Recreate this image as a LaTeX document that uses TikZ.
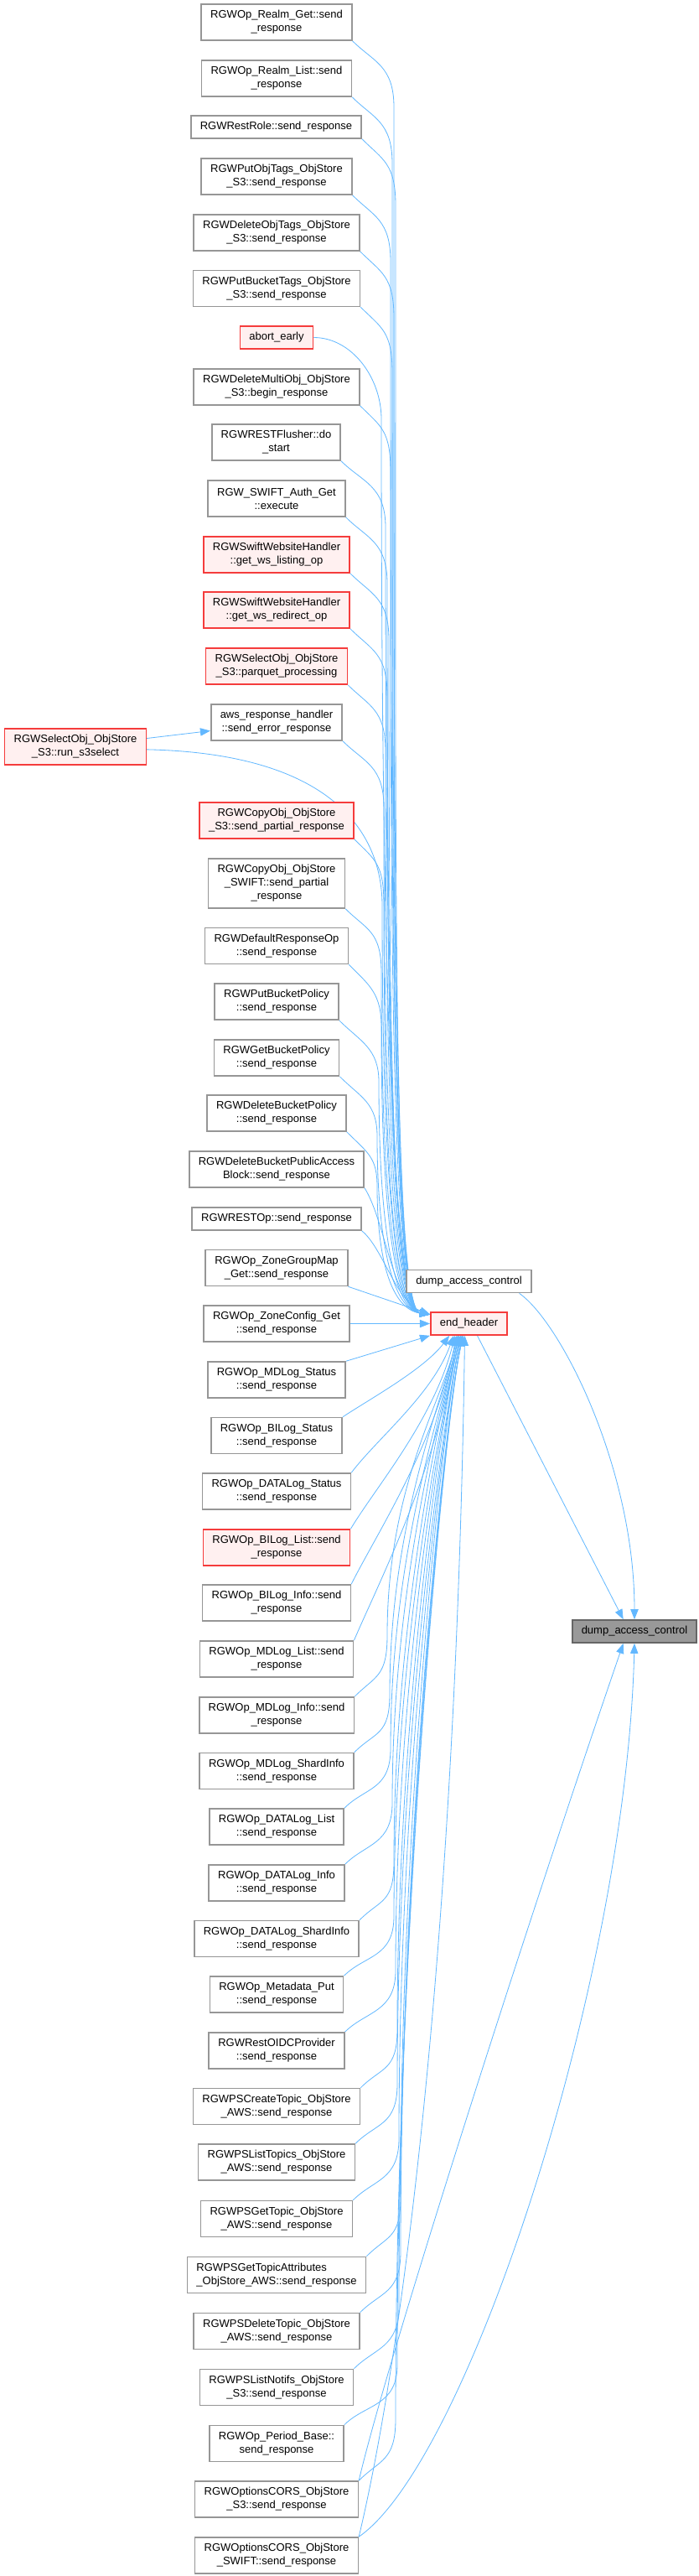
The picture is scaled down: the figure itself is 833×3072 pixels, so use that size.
\documentclass[tikz,border=0pt]{standalone}
\usepackage{fontspec}
\setmainfont{Liberation Sans}
\usepackage{tikz}
\usetikzlibrary{arrows.meta, backgrounds}
\definecolor{edgeblue}{RGB}{99,184,255}
\definecolor{boxgray}{RGB}{150,150,150}
\definecolor{hotred}{RGB}{245,60,60}
\definecolor{hotfill}{RGB}{255,240,240}
\definecolor{curfill}{RGB}{153,153,153}
\definecolor{curdraw}{RGB}{102,102,102}

\begin{document}
\begin{tikzpicture}[x=0.03cm, y=-0.03cm,
  fn/.style={rectangle, draw=boxgray, fill=white, line width=1.4pt,
             font=\fontsize{11.1}{13.7}\selectfont, align=center,
             inner xsep=0.33cm, inner ysep=0pt, minimum height=0.81cm},
  hot/.style={fn, draw=hotred, fill=hotfill},
  cur/.style={fn, draw=curdraw, fill=curfill},
  l2/.style={minimum height=1.29cm},
  l3/.style={minimum height=1.77cm},
  calls/.style={draw=edgeblue, line width=0.7pt, -{Triangle[length=0.36cm, width=0.28cm]}},
]
  \useasboundingbox (0,0) rectangle (833,3072);

  % callers of end_header, above it
  \node[fn, l2]  (rlmget)     at (330,26.5)   {RGWOp\_Realm\_Get::send\\\_response};
  \node[fn, l2]  (rlmlist)    at (330,93.5)   {RGWOp\_Realm\_List::send\\\_response};
  \node[fn]      (restrole)   at (329.5,151.5){RGWRestRole::send\_response};
  \node[fn, l2]  (putobjtags) at (330,210.5)  {RGWPutObjTags\_ObjStore\\\_S3::send\_response};
  \node[fn, l2]  (delobjtags) at (330,277.5)  {RGWDeleteObjTags\_ObjStore\\\_S3::send\_response};
  \node[fn, l2]  (putbkttags) at (330,344)    {RGWPutBucketTags\_ObjStore\\\_S3::send\_response};
  \node[hot]     (abortearly) at (330,402.5)  {abort\_early};
  \node[fn, l2]  (delmulti)   at (330,461.5)  {RGWDeleteMultiObj\_ObjStore\\\_S3::begin\_response};
  \node[fn, l2]  (flusher)    at (329.5,527.5){RGWRESTFlusher::do\\\_start};
  \node[fn, l2]  (swauth)     at (330,594.5)  {RGW\_SWIFT\_Auth\_Get\\::execute};
  \node[hot, l2] (wslist)     at (330,661.5)  {RGWSwiftWebsiteHandler\\::get\_ws\_listing\_op};
  \node[hot, l2] (wsredir)    at (330,727.5)  {RGWSwiftWebsiteHandler\\::get\_ws\_redirect\_op};
  \node[hot, l2] (parquet)    at (330,794.5)  {RGWSelectObj\_ObjStore\\\_S3::parquet\_processing};
  \node[fn, l2]  (awsresp)    at (330,861.5)  {aws\_response\_handler\\::send\_error\_response};
  \node[hot, l2] (runsel)     at (90,890.5)   {RGWSelectObj\_ObjStore\\\_S3::run\_s3select};
  \node[hot, l2] (copys3)     at (330,978.5)  {RGWCopyObj\_ObjStore\\\_S3::send\_partial\_response};
  \node[fn, l3]  (copyswift)  at (330,1053.5) {RGWCopyObj\_ObjStore\\\_SWIFT::send\_partial\\\_response};
  \node[fn, l2]  (defresp)    at (330,1128)   {RGWDefaultResponseOp\\::send\_response};
  \node[fn, l2]  (putpol)     at (330,1194.5) {RGWPutBucketPolicy\\::send\_response};
  \node[fn, l2]  (getpol)     at (330,1261.5) {RGWGetBucketPolicy\\::send\_response};
  \node[fn, l2]  (delpol)     at (330,1327.5) {RGWDeleteBucketPolicy\\::send\_response};
  \node[fn, l2]  (delpab)     at (330,1394.5) {RGWDeleteBucketPublicAccess\\Block::send\_response};
  \node[fn]      (restop)     at (330,1453.5) {RGWRESTOp::send\_response};
  \node[fn, l2]  (zgmap)      at (330,1512)   {RGWOp\_ZoneGroupMap\\\_Get::send\_response};

  % middle column
  \node[fn]      (dacother)   at (559.5,1528) {dump\_access\_control};
  \node[hot]     (endhdr)     at (559.5,1578.5){end\_header};
  \node[cur]     (dac)        at (757,1945.5) {dump\_access\_control};

  % callers of end_header, beside and below it
  \node[fn, l2]  (zcfg)       at (330,1578.5) {RGWOp\_ZoneConfig\_Get\\::send\_response};
  \node[fn, l2]  (mdstat)     at (330,1645.5) {RGWOp\_MDLog\_Status\\::send\_response};
  \node[fn, l2]  (blstat)     at (330,1712)   {RGWOp\_BILog\_Status\\::send\_response};
  \node[fn, l2]  (dlstat)     at (330,1778.5) {RGWOp\_DATALog\_Status\\::send\_response};
  \node[hot, l2] (bllist)     at (330,1845.5) {RGWOp\_BILog\_List::send\\\_response};
  \node[fn, l2]  (blinfo)     at (330,1911.5) {RGWOp\_BILog\_Info::send\\\_response};
  \node[fn, l2]  (mdlist)     at (330,1978.5) {RGWOp\_MDLog\_List::send\\\_response};
  \node[fn, l2]  (mdinfo)     at (330,2045.5) {RGWOp\_MDLog\_Info::send\\\_response};
  \node[fn, l2]  (mdshard)    at (330,2112)   {RGWOp\_MDLog\_ShardInfo\\::send\_response};
  \node[fn, l2]  (dllist)     at (330,2178.5) {RGWOp\_DATALog\_List\\::send\_response};
  \node[fn, l2]  (dlinfo)     at (330,2245.5) {RGWOp\_DATALog\_Info\\::send\_response};
  \node[fn, l2]  (dlshard)    at (330,2312)   {RGWOp\_DATALog\_ShardInfo\\::send\_response};
  \node[fn, l2]  (mdput)      at (330,2378.5) {RGWOp\_Metadata\_Put\\::send\_response};
  \node[fn, l2]  (oidc)       at (330,2445.5) {RGWRestOIDCProvider\\::send\_response};
  \node[fn, l2]  (pscreate)   at (330,2512)   {RGWPSCreateTopic\_ObjStore\\\_AWS::send\_response};
  \node[fn, l2]  (pslist)     at (330,2578.5) {RGWPSListTopics\_ObjStore\\\_AWS::send\_response};
  \node[fn, l2]  (psget)      at (330,2646)   {RGWPSGetTopic\_ObjStore\\\_AWS::send\_response};
  \node[fn, l2, align=left] (psattr) at (330,2713) {RGWPSGetTopicAttributes\\\_ObjStore\_AWS::send\_response};
  \node[fn, l2]  (psdel)      at (330,2780)   {RGWPSDeleteTopic\_ObjStore\\\_AWS::send\_response};
  \node[fn, l2]  (psnotif)    at (330,2847)   {RGWPSListNotifs\_ObjStore\\\_S3::send\_response};
  \node[fn, l2]  (period)     at (330,2914)   {RGWOp\_Period\_Base::\\send\_response};
  \node[fn, l2]  (cors3)      at (330,2980.5) {RGWOptionsCORS\_ObjStore\\\_S3::send\_response};
  \node[fn, l2]  (corswift)   at (330,3047.5) {RGWOptionsCORS\_ObjStore\\\_SWIFT::send\_response};

  \begin{scope}[on background layer]
  % upper bundle into end_header
  \draw[calls] (rlmget.south east) .. controls +(25,25) and +(0,-50) .. (470,128) .. controls +(0,860) and +(-45,-6) .. ([yshift=-0.1cm]endhdr.north west);
  \draw[calls] (rlmlist.south east) .. controls +(25,25) and +(0,-50) .. (468,195) .. controls +(0,820) and +(-45,-6) .. ([yshift=-0.1cm]endhdr.north west);
  \draw[calls] (restrole.south east) .. controls +(25,25) and +(0,-50) .. (472,245) .. controls +(0,790) and +(-45,-6) .. ([yshift=-0.1cm]endhdr.north west);
  \draw[calls] (putobjtags.south east) .. controls +(25,25) and +(0,-50) .. (466,312) .. controls +(0,750) and +(-45,-6) .. ([yshift=-0.1cm]endhdr.north west);
  \draw[calls] (delobjtags.south east) .. controls +(25,25) and +(0,-50) .. (470,379) .. controls +(0,710) and +(-45,-6) .. ([yshift=-0.1cm]endhdr.north west);
  \draw[calls] (putbkttags.south east) .. controls +(25,25) and +(0,-50) .. (468,445) .. controls +(0,670) and +(-45,-6) .. ([yshift=-0.1cm]endhdr.north west);
  \draw[calls] (abortearly.east) .. controls +(45,0) and +(0,-50) .. (455,500) .. controls +(0,640) and +(-45,-6) .. ([yshift=-0.1cm]endhdr.north west);
  \draw[calls] (delmulti.south east) .. controls +(25,25) and +(0,-50) .. (466,563) .. controls +(0,600) and +(-45,-6) .. ([yshift=-0.1cm]endhdr.north west);
  \draw[calls] (flusher.south east) .. controls +(25,25) and +(0,-50) .. (460,629) .. controls +(0,560) and +(-45,-6) .. ([yshift=-0.1cm]endhdr.north west);
  \draw[calls] (swauth.south east) .. controls +(25,25) and +(0,-50) .. (462,696) .. controls +(0,520) and +(-45,-6) .. ([yshift=-0.1cm]endhdr.north west);
  \draw[calls] (wslist.south east) .. controls +(25,25) and +(0,-50) .. (464,763) .. controls +(0,480) and +(-45,-6) .. ([yshift=-0.1cm]endhdr.north west);
  \draw[calls] (wsredir.south east) .. controls +(25,25) and +(0,-50) .. (462,829) .. controls +(0,440) and +(-45,-6) .. ([yshift=-0.1cm]endhdr.north west);
  \draw[calls] (parquet.south east) .. controls +(25,25) and +(0,-50) .. (460,896) .. controls +(0,400) and +(-45,-6) .. ([yshift=-0.1cm]endhdr.north west);
  \draw[calls] (awsresp.south east) .. controls +(25,25) and +(0,-50) .. (458,963) .. controls +(0,360) and +(-45,-6) .. ([yshift=-0.1cm]endhdr.north west);
  \draw[calls] ([yshift=-0.1cm]runsel.east) .. controls +(230,5) and +(0,-80) .. (456,1080) .. controls +(0,290) and +(-45,-6) .. ([yshift=-0.1cm]endhdr.north west);
  \draw[calls] (copys3.south east) .. controls +(25,25) and +(0,-50) .. (458,1080) .. controls +(0,290) and +(-45,-6) .. ([yshift=-0.1cm]endhdr.north west);
  \draw[calls] (copyswift.south east) .. controls +(25,25) and +(0,-50) .. (455,1160) .. controls +(0,240) and +(-45,-6) .. ([yshift=-0.1cm]endhdr.north west);
  \draw[calls] (defresp.south east) .. controls +(25,25) and +(0,-40) .. (455,1225) .. controls +(0,200) and +(-45,-6) .. ([yshift=-0.1cm]endhdr.north west);
  \draw[calls] (putpol.south east) .. controls +(25,25) and +(0,-40) .. (452,1290) .. controls +(0,165) and +(-45,-6) .. ([yshift=-0.1cm]endhdr.north west);
  \draw[calls] (getpol.south east) .. controls +(25,25) and +(0,-40) .. (450,1355) .. controls +(0,125) and +(-45,-6) .. ([yshift=-0.1cm]endhdr.north west);
  \draw[calls] (delpol.south east) .. controls +(25,25) and +(0,-35) .. (450,1415) .. controls +(0,90) and +(-45,-6) .. ([yshift=-0.1cm]endhdr.north west);
  \draw[calls] (delpab.south east) .. controls +(25,40) and +(-45,-15) .. ([yshift=-0.1cm]endhdr.north west);
  \draw[calls] (restop.south east) .. controls +(25,20) and +(-40,-15) .. ([yshift=-0.1cm]endhdr.north west);
  \draw[calls] (zgmap.south east) -- ([yshift=-0.1cm]endhdr.north west);
  \draw[calls] (zcfg) -- (endhdr);
  \draw[calls] ([yshift=0.3cm]runsel.east) -- ([yshift=-0.3cm]awsresp.west);

  % lower bundle into end_header
  \draw[calls] (mdstat.north east) -- (endhdr.south west);
  \draw[calls] (blstat.north east) .. controls +(30,-20) and +(-30,40) .. ([xshift=-0.7cm]endhdr.south);
  \draw[calls] (dlstat.north east) .. controls +(30,-40) and +(-25,70) .. ([xshift=-0.55cm]endhdr.south);
  \draw[calls] (bllist.north east) .. controls +(30,-50) and +(-25,100) .. ([xshift=-0.5cm]endhdr.south);
  \draw[calls] (blinfo.north east) .. controls +(30,-60) and +(-25,130) .. ([xshift=-0.45cm]endhdr.south);
  \draw[calls] (mdlist.north east) .. controls +(30,-70) and +(-25,160) .. ([xshift=-0.4cm]endhdr.south);
  \draw[calls] (mdinfo.north east) .. controls +(25,-25) and +(0,50) .. (462,1950) .. controls +(0,-175) and +(-20,80) .. ([xshift=-0.4cm]endhdr.south);
  \draw[calls] (mdshard.north east) .. controls +(25,-25) and +(0,50) .. (465,2020) .. controls +(0,-200) and +(-20,80) .. ([xshift=-0.4cm]endhdr.south);
  \draw[calls] (dllist.north east) .. controls +(25,-25) and +(0,50) .. (466,2085) .. controls +(0,-230) and +(-20,80) .. ([xshift=-0.35cm]endhdr.south);
  \draw[calls] (dlinfo.north east) .. controls +(25,-25) and +(0,50) .. (468,2150) .. controls +(0,-260) and +(-20,80) .. ([xshift=-0.35cm]endhdr.south);
  \draw[calls] (dlshard.north east) .. controls +(25,-25) and +(0,50) .. (470,2220) .. controls +(0,-290) and +(-20,80) .. ([xshift=-0.35cm]endhdr.south);
  \draw[calls] (mdput.north east) .. controls +(25,-25) and +(0,50) .. (470,2285) .. controls +(0,-320) and +(-20,80) .. ([xshift=-0.3cm]endhdr.south);
  \draw[calls] (oidc.north east) .. controls +(25,-25) and +(0,50) .. (472,2350) .. controls +(0,-350) and +(-20,80) .. ([xshift=-0.3cm]endhdr.south);
  \draw[calls] (pscreate.north east) .. controls +(25,-25) and +(0,50) .. (474,2420) .. controls +(0,-380) and +(-20,80) .. ([xshift=-0.3cm]endhdr.south);
  \draw[calls] (pslist.north east) .. controls +(25,-25) and +(0,50) .. (474,2485) .. controls +(0,-410) and +(-20,80) .. ([xshift=-0.25cm]endhdr.south);
  \draw[calls] (psget.north east) .. controls +(25,-25) and +(0,50) .. (476,2550) .. controls +(0,-440) and +(-20,80) .. ([xshift=-0.25cm]endhdr.south);
  \draw[calls] (psattr.north east) .. controls +(25,-25) and +(0,50) .. (478,2620) .. controls +(0,-470) and +(-20,80) .. ([xshift=-0.25cm]endhdr.south);
  \draw[calls] (psdel.north east) .. controls +(25,-25) and +(0,50) .. (478,2685) .. controls +(0,-500) and +(-20,80) .. ([xshift=-0.2cm]endhdr.south);
  \draw[calls] (psnotif.north east) .. controls +(25,-25) and +(0,50) .. (476,2750) .. controls +(0,-530) and +(-20,80) .. ([xshift=-0.2cm]endhdr.south);
  \draw[calls] (period.north east) .. controls +(25,-25) and +(0,50) .. (474,2820) .. controls +(0,-560) and +(-20,80) .. ([xshift=-0.2cm]endhdr.south);
  \draw[calls] (cors3.north east) .. controls +(25,-25) and +(0,50) .. (472,2885) .. controls +(0,-590) and +(-20,80) .. ([xshift=-0.2cm]endhdr.south);
  \draw[calls] (corswift.north east) .. controls +(55,-230) and +(-10,700) .. ([xshift=-0.15cm]endhdr.south);

  % into dump_access_control
  \draw[calls] ([xshift=0.3cm]endhdr.south) -- ([xshift=-0.4cm]dac.north);
  \draw[calls] ([xshift=-0.45cm]dacother.south east) .. controls +(50,35) and +(0,-180) .. (dac.north);
  \draw[calls] (cors3.north east) .. controls +(35,-150) and +(-110,320) .. ([xshift=-0.4cm]dac.south);
  \draw[calls] (corswift.north east) .. controls +(130,-90) and +(-10,400) .. (dac.south);
  \end{scope}
\end{tikzpicture}
\end{document}
